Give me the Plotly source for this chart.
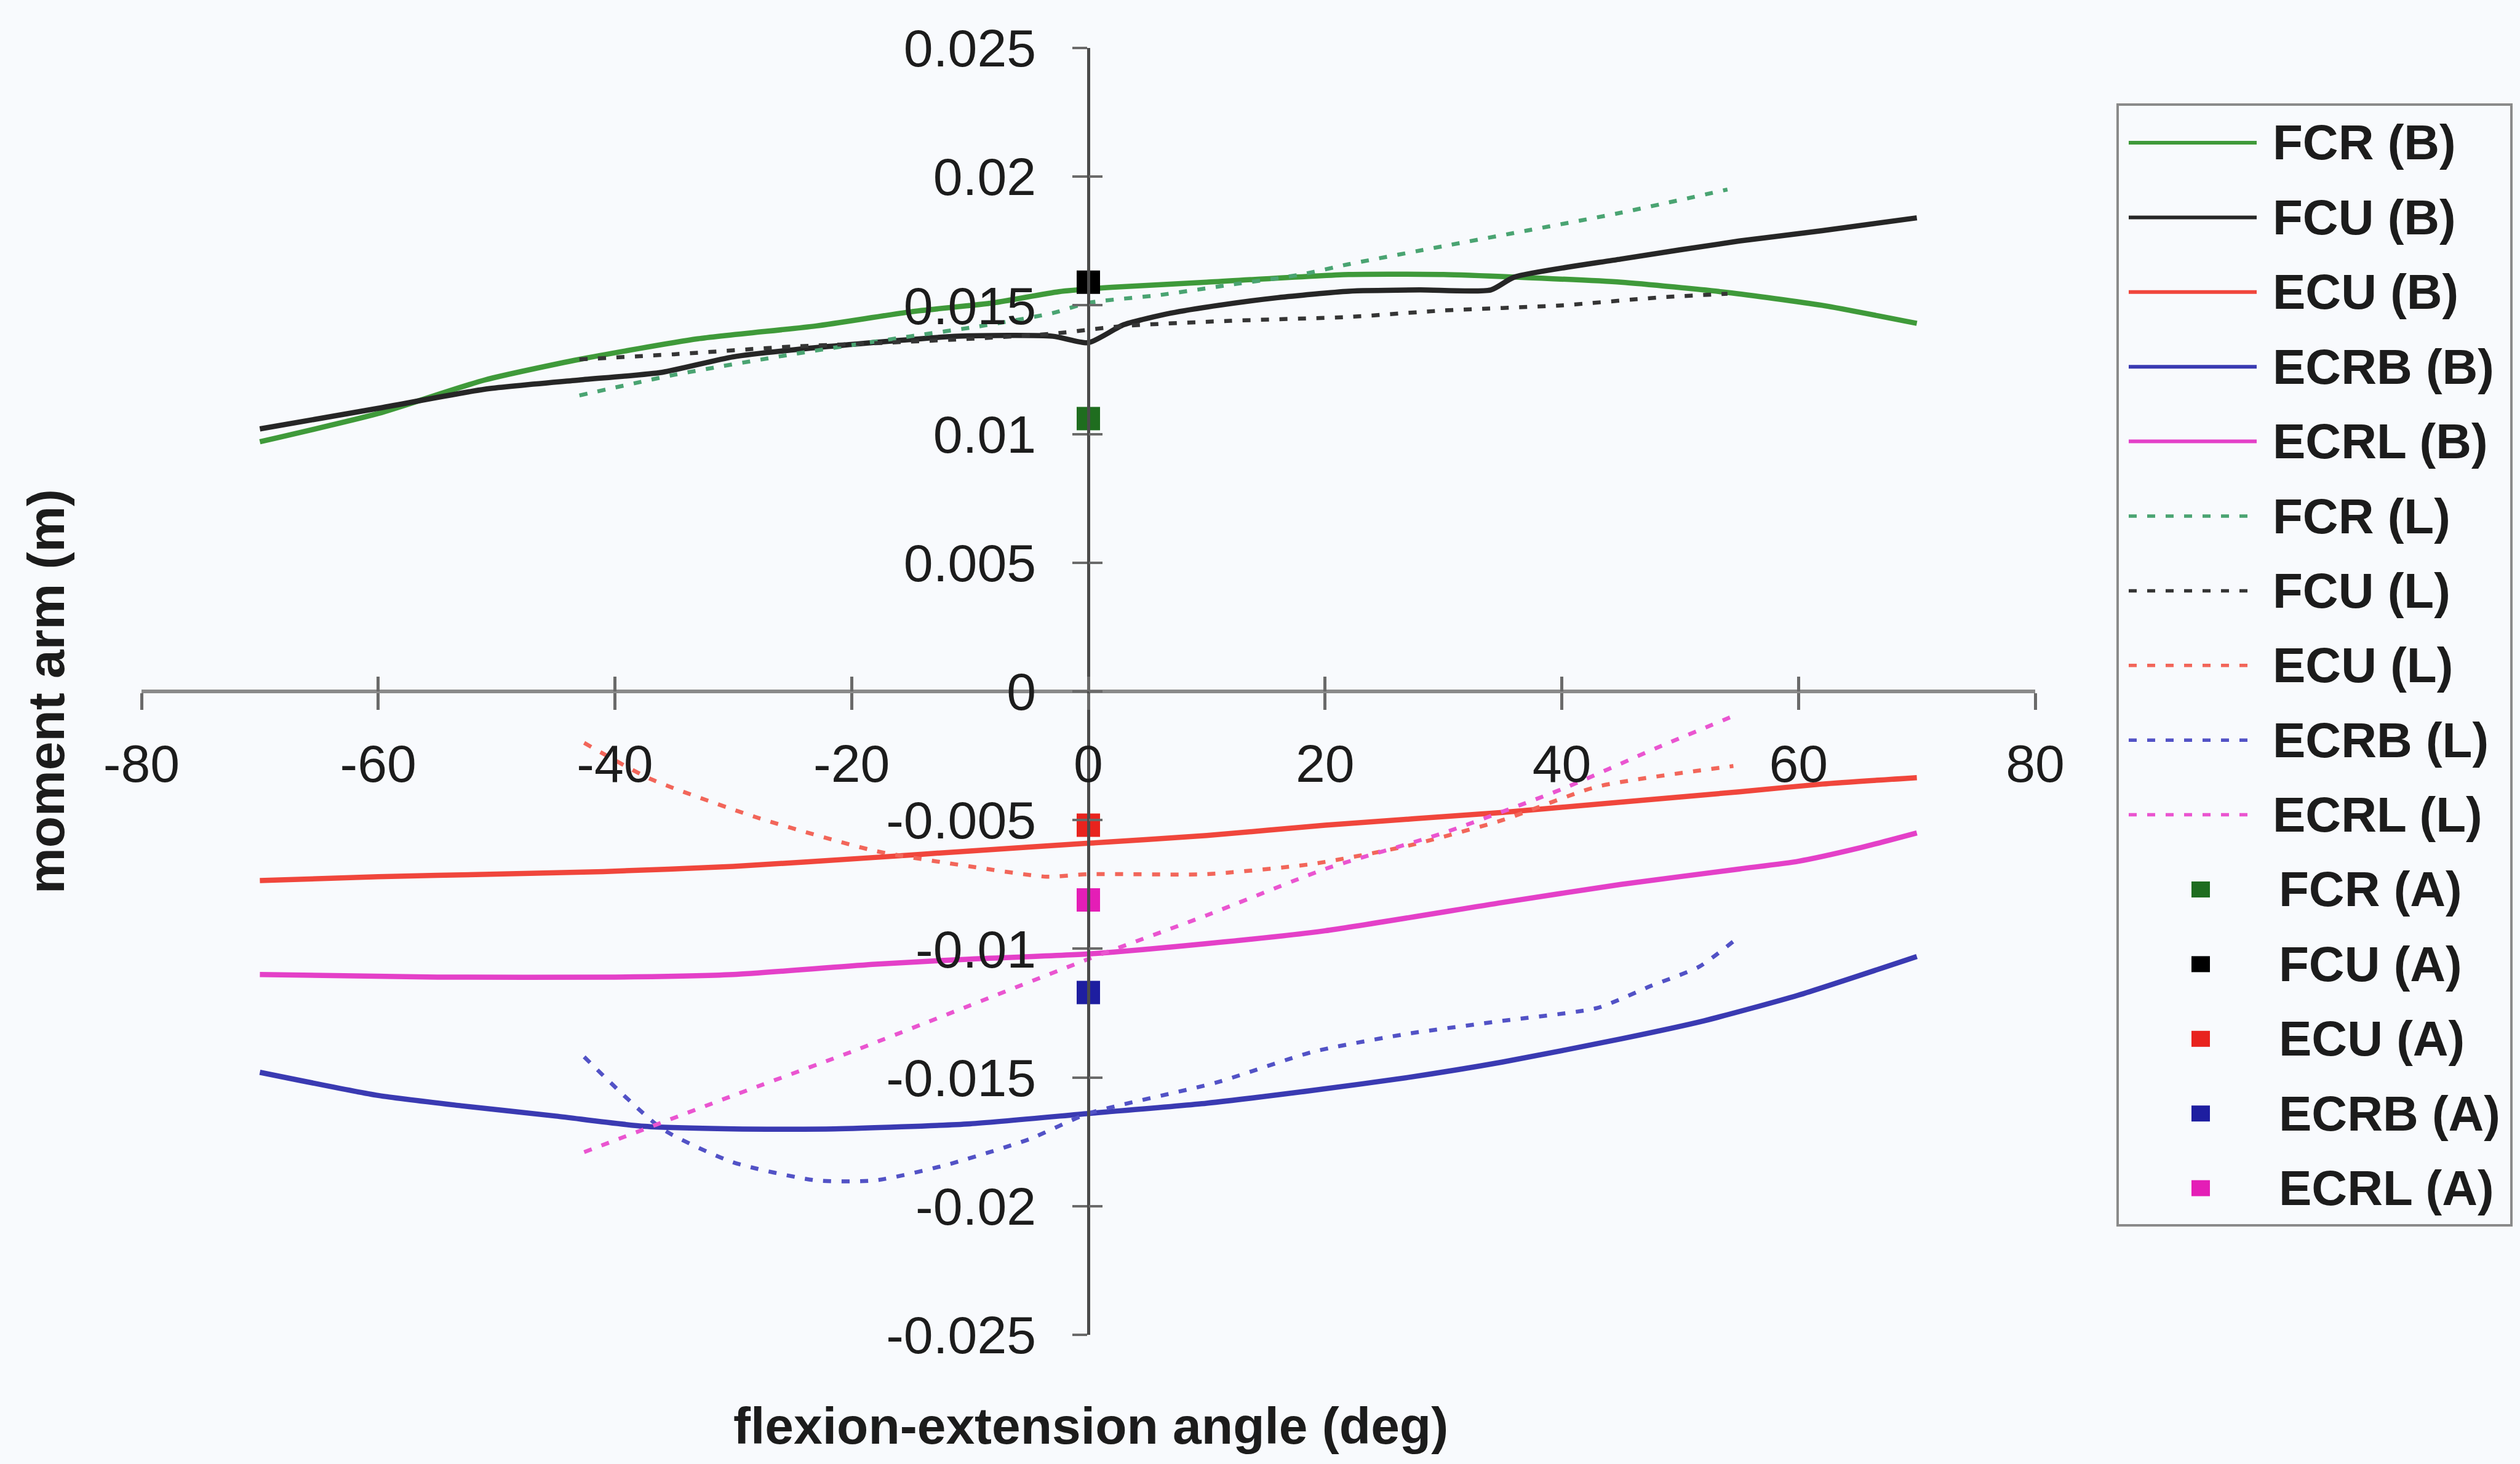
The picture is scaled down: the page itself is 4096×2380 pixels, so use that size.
import plotly.graph_objects as go

# ---------------- data ----------------
fcr_b_x = [-70, -60, -51, -43, -33, -23, -15, -8, -2.5, 2, 10, 22, 30, 36, 45, 54, 62, 70]
fcr_b_y = [0.0097, 0.0108, 0.0121, 0.0129, 0.0137, 0.0142, 0.01475, 0.0151, 0.01553, 0.0157,
           0.0159, 0.0162, 0.0162, 0.0161, 0.0159, 0.0155, 0.0150, 0.0143]

fcu_b_x = [-70, -60, -51, -43, -36, -30, -22, -11, -3, 0, 3, 7, 11, 16, 22, 28, 34, 36, 45, 55, 62, 70]
fcu_b_y = [0.0102, 0.0110, 0.01174, 0.0121, 0.0124, 0.0130, 0.0134, 0.0138, 0.0138, 0.01355, 0.01425,
           0.0147, 0.0150, 0.0153, 0.01555, 0.0156, 0.0156, 0.0161, 0.0168, 0.0175, 0.0179, 0.0184]

ecu_b_x = [-70, -60, -50, -41, -30, -18, -10, 0, 10, 20, 35, 45, 55, 62, 70]
ecu_b_y = [-0.00735, -0.0072, -0.0071, -0.0070, -0.0068, -0.00645, -0.0062, -0.0059, -0.0056,
           -0.0052, -0.0047, -0.0043, -0.0039, -0.0036, -0.00335]

ecrb_b_x = [-70, -60, -53, -45, -37.5, -30, -21.5, -10, 0, 10, 19, 27, 35, 45, 52, 60, 70]
ecrb_b_y = [-0.0148, -0.0157, -0.0161, -0.0165, -0.0169, -0.0170, -0.0170, -0.0168, -0.0164,
            -0.0160, -0.0155, -0.0150, -0.0144, -0.0135, -0.0128, -0.0118, -0.0103]

ecrl_b_x = [-70, -55, -40, -30, -18, -10, 0, 10, 20, 35, 45, 55, 60, 65, 70]
ecrl_b_y = [-0.0110, -0.0111, -0.0111, -0.0110, -0.0106, -0.0104, -0.0102, -0.0098, -0.0093,
            -0.0082, -0.0075, -0.0069, -0.0066, -0.0061, -0.0055]

fcr_l_x = [-43, -35, -25, -15, -9, -3, 0, 6, 12, 18, 22, 30, 37, 45, 54]
fcr_l_y = [0.0115, 0.0123, 0.0131, 0.0138, 0.0142, 0.0147, 0.0151, 0.0154, 0.0158, 0.0162,
           0.0166, 0.0173, 0.0179, 0.0186, 0.0195]

fcu_l_x = [-43, -35, -25, -17, -10, -3, 3, 12, 22, 30, 40, 48, 54]
fcu_l_y = [0.0129, 0.0131, 0.0134, 0.01355, 0.0137, 0.0139, 0.0142, 0.0144, 0.01455, 0.0148,
           0.0150, 0.0153, 0.01545]

ecu_l_x = [-42.6, -37, -28, -18, -10, -3.5, 0, 10, 19, 27, 35, 43, 54.5]
ecu_l_y = [-0.0020, -0.0034, -0.0049, -0.0062, -0.0068, -0.0072, -0.0071, -0.0071, -0.0067,
           -0.0060, -0.0050, -0.0037, -0.0029]

ecrb_l_x = [-42.6, -36, -30, -23, -18, -12, -5, 0, 10.8, 19, 27, 35, 43, 47.5, 51.6, 54.8]
ecrb_l_y = [-0.0142, -0.0170, -0.0183, -0.0190, -0.0190, -0.0184, -0.0174, -0.0164, -0.0152,
            -0.0140, -0.0133, -0.0128, -0.0123, -0.01145, -0.0107, -0.0096]

ecrl_l_x = [-42.6, -30, -20, -10, 0, 10, 20, 30, 40, 48, 54.8]
ecrl_l_y = [-0.0179, -0.0157, -0.0140, -0.0122, -0.0104, -0.0087, -0.0069, -0.0055, -0.0038,
            -0.0022, -0.0009]

a_names = ["FCR (A)", "FCU (A)", "ECU (A)", "ECRB (A)", "ECRL (A)"]
a_x = [0, 0, 0, 0, 0]
a_y = [0.0106, 0.0159, -0.0052, -0.0117, -0.0081]

x_ticks = [-80, -60, -40, -20, 0, 20, 40, 60, 80]
x_ticklabels = ["-80", "-60", "-40", "-20", "0", "20", "40", "60", "80"]
y_ticks = [0.025, 0.02, 0.015, 0.01, 0.005, 0, -0.005, -0.01, -0.015, -0.02, -0.025]
y_ticklabels = ["0.025", "0.02", "0.015", "0.01", "0.005", "0", "-0.005", "-0.01", "-0.015",
                "-0.02", "-0.025"]

x_title = "flexion-extension angle (deg)"
y_title = "moment arm (m)"

# ---------------- styles ----------------
W, H = 4096, 2380
FONT = "Liberation Sans, Arial, sans-serif"
BG = "#f8fafd"
TXT = "#1c1c1c"

solid_series = [
    ("FCR (B)", fcr_b_x, fcr_b_y, "#3f9a3a"),
    ("FCU (B)", fcu_b_x, fcu_b_y, "#262626"),
    ("ECU (B)", ecu_b_x, ecu_b_y, "#f0463c"),
    ("ECRB (B)", ecrb_b_x, ecrb_b_y, "#3a3ab2"),
    ("ECRL (B)", ecrl_b_x, ecrl_b_y, "#e440c8"),
]
dotted_series = [
    ("FCR (L)", fcr_l_x, fcr_l_y, "#4aa472"),
    ("FCU (L)", fcu_l_x, fcu_l_y, "#353535"),
    ("ECU (L)", ecu_l_x, ecu_l_y, "#f2665a"),
    ("ECRB (L)", ecrb_l_x, ecrb_l_y, "#5252c6"),
    ("ECRL (L)", ecrl_l_x, ecrl_l_y, "#ea55d0"),
]
a_colors = ["#1f6d1f", "#000000", "#e8231e", "#1e1ea0", "#e41eb6"]

DOT = "13px,17px"
SOLID_W = 8.5
DOT_W = 6.5

fig = go.Figure()
for name, xs, ys, col in solid_series:
    fig.add_trace(go.Scatter(x=xs, y=ys, mode="lines", name=name,
                             line=dict(color=col, width=SOLID_W, shape="spline", smoothing=0.6)))
for name, xs, ys, col in dotted_series:
    fig.add_trace(go.Scatter(x=xs, y=ys, mode="lines", name=name,
                             line=dict(color=col, width=DOT_W, dash=DOT, shape="spline", smoothing=0.6)))
for name, xv, yv, col in zip(a_names, a_x, a_y, a_colors):
    fig.add_trace(go.Scatter(x=[xv], y=[yv], mode="markers", name=name,
                             marker=dict(symbol="square", size=38, color=col, line=dict(width=0))))
# empty trace to create the overlay axes (cross ticks)
fig.add_trace(go.Scatter(x=[], y=[], xaxis="x2", yaxis="y2", showlegend=False, hoverinfo="skip"))

# ---------------- axes ----------------
XD0, XD1 = 230 / W, 3308 / W
YD0, YD1 = (H - 2170) / H, (H - 78) / H
X_POS = (YD0 + YD1) / 2      # y = 0 in paper coords
Y_POS = (XD0 + XD1) / 2      # x = 0 in paper coords

common_x = dict(domain=[XD0, XD1], range=[-80, 80], anchor="free", position=X_POS,
                tickmode="array", tickvals=x_ticks, showgrid=False, zeroline=False)
common_y = dict(domain=[YD0, YD1], range=[-0.025, 0.025], anchor="free", position=Y_POS,
                tickmode="array", tickvals=y_ticks, showgrid=False, zeroline=False)

fig.update_layout(
    width=W, height=H,
    margin=dict(l=0, r=0, t=0, b=0, pad=0, autoexpand=False),
    paper_bgcolor=BG, plot_bgcolor=BG,
    showlegend=False,
    font=dict(family=FONT, color=TXT),
    xaxis=dict(**common_x, ticktext=x_ticklabels, ticks="outside", ticklen=27, tickwidth=4.5,
               tickcolor="#6a6a6a", showline=True, linecolor="#8a8a8a", linewidth=6,
               tickfont=dict(size=86, color=TXT, family=FONT), ticklabelstandoff=14,
               automargin=False),
    yaxis=dict(**common_y, ticktext=y_ticklabels, ticks="outside", ticklen=24, tickwidth=4,
               tickcolor="#6a6a6a", showline=True, linecolor="#4a4a4a", linewidth=4.5,
               tickfont=dict(size=86, color=TXT, family=FONT), ticklabelstandoff=42,
               automargin=False),
    xaxis2=dict(**common_x, overlaying="x", ticks="inside", ticklen=24, tickwidth=4.5,
                tickcolor="#6a6a6a", showticklabels=False, showline=False, automargin=False),
    yaxis2=dict(**common_y, overlaying="y", ticks="inside", ticklen=22, tickwidth=4,
                tickcolor="#6a6a6a", showticklabels=False, showline=False, automargin=False),
)

# axis titles
fig.add_annotation(text=y_title, x=75 / W, y=1 - 1124 / H, xref="paper", yref="paper",
                   textangle=-90, showarrow=False, xanchor="center", yanchor="middle",
                   font=dict(size=84, family=FONT, color=TXT, weight="bold"))
fig.add_annotation(text=x_title, x=1773 / W, y=1 - 2318 / H, xref="paper", yref="paper",
                   showarrow=False, xanchor="center", yanchor="middle",
                   font=dict(size=84, family=FONT, color=TXT, weight="bold"))

# ---------------- legend (drawn in paper coordinates) ----------------
LX0, LX1 = 3442 / W, 4082 / W
LY_TOP, LY_BOT = 1 - 170 / H, 1 - 1992 / H
fig.add_shape(type="rect", xref="paper", yref="paper", x0=LX0, x1=LX1, y0=LY_BOT, y1=LY_TOP,
              line=dict(color="#8a8a8a", width=4), fillcolor=BG, layer="below")

ROW0, ROWSTEP = 232, 121.4
SYM0, SYM1 = 3460 / W, 3668 / W
TEXT_X = 3692 / W
entries = ([(n, c, "solid") for n, _, _, c in solid_series]
           + [(n, c, "dot") for n, _, _, c in dotted_series]
           + [(n, c, "marker") for n, c in zip(a_names, a_colors)])
for i, (name, col, kind) in enumerate(entries):
    py = 1 - (ROW0 + i * ROWSTEP) / H
    if kind == "marker":
        cx = 3577 / W
        hw, hh = 15 / W, 13 / H
        fig.add_shape(type="rect", xref="paper", yref="paper", x0=cx - hw, x1=cx + hw,
                      y0=py - hh, y1=py + hh, line=dict(width=0), fillcolor=col)
        tx = TEXT_X + 10 / W
    else:
        fig.add_shape(type="line", xref="paper", yref="paper", x0=SYM0, x1=SYM1, y0=py, y1=py,
                      line=dict(color=col, width=6 if kind == "solid" else 5.5,
                                dash=None if kind == "solid" else DOT))
        tx = TEXT_X
    fig.add_annotation(text=name, x=tx, y=py, xref="paper", yref="paper", showarrow=False,
                       xanchor="left", yanchor="middle",
                       font=dict(size=80, family=FONT, color=TXT, weight="bold"))

fig.write_html("out.html")
